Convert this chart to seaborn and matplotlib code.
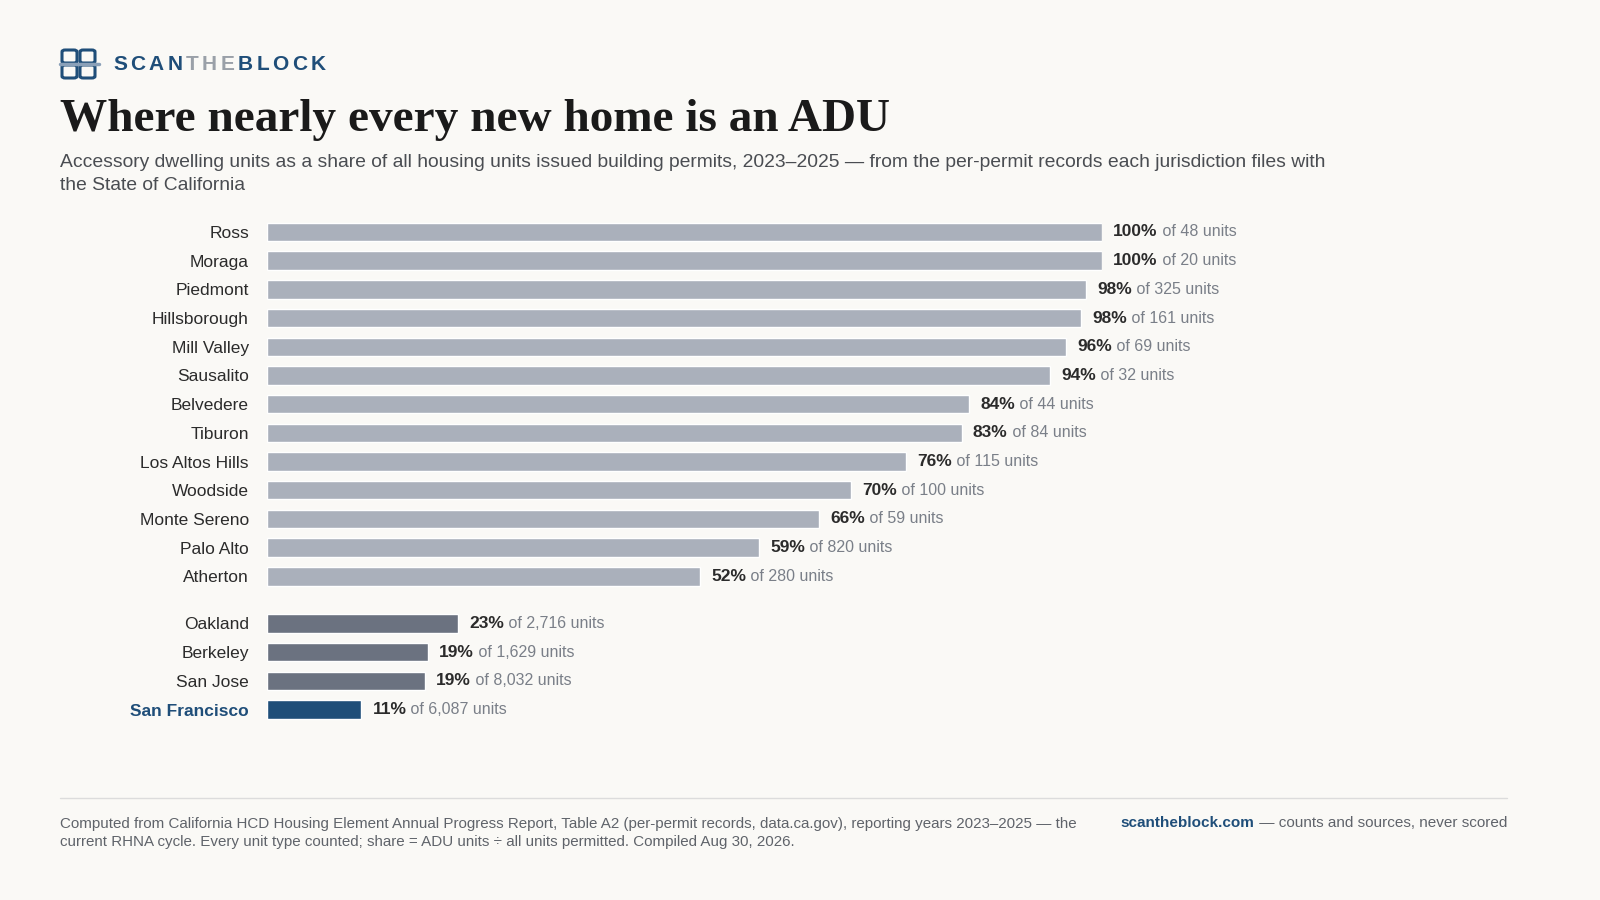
import matplotlib
matplotlib.use("Agg")
import matplotlib.pyplot as plt
import seaborn as sns
import pandas as pd
from matplotlib.patches import FancyBboxPatch
from matplotlib.lines import Line2D

places = ["Ross","Moraga","Piedmont","Hillsborough","Mill Valley","Sausalito","Belvedere",
          "Tiburon","Los Altos Hills","Woodside","Monte Sereno","Palo Alto","Atherton",
          "Oakland","Berkeley","San Jose","San Francisco"]
share = [100, 100, 98.1, 97.5, 95.7, 93.8, 84.1, 83.2, 76.5, 69.9, 66.1, 58.9, 51.9,
         22.9, 19.3, 18.9, 11.3]
share_labels = ["100%","100%","98%","98%","96%","94%","84%","83%","76%","70%","66%","59%","52%",
                "23%","19%","19%","11%"]
units = ["48","20","325","161","69","32","44","84","115","100","59","820","280",
         "2,716","1,629","8,032","6,087"]
group = ["small"]*13 + ["city"]*3 + ["sf"]

BG = "#faf9f6"
colors = {"small": "#aab0bb", "city": "#6b7280", "sf": "#1f4e79"}
ypos = [i if i < 13 else i + 0.64 for i in range(len(places))]

df = pd.DataFrame({"place": places, "share": share, "y": ypos, "group": group})

sns.set_theme(style="white")
plt.rcParams["font.family"] = ["Liberation Sans", "DejaVu Sans"]
fig = plt.figure(figsize=(16, 9), dpi=100, facecolor=BG)
ax = fig.add_axes([267/1600, 1-724.2/900, 835/1600, 506.6/900])
ax.set_facecolor(BG)
sns.barplot(data=df, x="share", y="y", hue="group", palette=colors, orient="h",
            native_scale=True, width=0.64, legend=False, ax=ax, saturation=1)
ax.set_xlim(0, 100)
ax.set_ylim(17.15, -0.5)
for s in ax.spines.values():
    s.set_visible(False)
ax.set_xticks([])
ax.set_yticks(ypos)
ax.set_yticklabels(places, fontsize=12.5, color="#2b2b2b")
ax.tick_params(axis="y", length=0, pad=13)
lab = ax.get_yticklabels()[-1]
lab.set_color("#1f4e79"); lab.set_fontweight("bold")
ax.set_xlabel(""); ax.set_ylabel("")
for v, y, sl, u in zip(share, ypos, share_labels, units):
    t = ax.annotate(sl, (v, y), xytext=(8, 0), textcoords="offset points", va="center",
                    fontsize=12.5, fontweight="bold", color="#2b2b2b", annotation_clip=False)
    ax.annotate(" of " + u + " units", (1, 0.5), xycoords=t, va="center", ha="left",
                fontsize=11.5, color="#7a7f88", annotation_clip=False)

# logo
def px(x, y):
    return x/1600, 1-y/900
for (x, y) in [(62, 50), (80, 50), (62, 65), (80, 65)]:
    fig.patches.append(FancyBboxPatch(px(x, y+13), 15/1600, 13/900,
                       boxstyle="round,pad=0,rounding_size=0.002", transform=fig.transFigure,
                       fill=False, ec="#1f4e79", lw=2.2))
fig.lines.append(Line2D([60/1600, 99/1600], [1-64/900]*2, transform=fig.transFigure,
                        color="#8aa0b8", lw=2.5))
kw = dict(fontsize=15, fontweight="bold", va="center")
fig.canvas.draw()
r = fig.canvas.get_renderer()
s = "SCANTHEBLOCK"
xc = 113/1600
for i, ch in enumerate(s):
    col = "#9aa0a8" if 4 <= i < 7 else "#1f4e79"
    tt = fig.text(xc, 1-64/900, ch, color=col, **kw)
    w = tt.get_window_extent(r).width
    xc += (w + 3.4)/1600

fig.text(60/1600, 1-120/900, "Where nearly every new home is an ADU", fontsize=34,
         fontweight="bold", family="Liberation Serif", color="#1a1a1a", va="center")
fig.text(60/1600, 1-174/900,
         "Accessory dwelling units as a share of all housing units issued building permits, 2023–2025 — from the per-permit records each jurisdiction files with\nthe State of California",
         fontsize=13.85, color="#4a4d52", va="center", linespacing=1.4)
fig.lines.append(Line2D([60/1600, 1507/1600], [1-798/900]*2, transform=fig.transFigure,
                        color="#dcdcdc", lw=1))
fig.text(60/1600, 1-833/900,
         "Computed from California HCD Housing Element Annual Progress Report, Table A2 (per-permit records, data.ca.gov), reporting years 2023–2025 — the\ncurrent RHNA cycle. Every unit type counted; share = ADU units ÷ all units permitted. Compiled Aug 30, 2026.",
         fontsize=10.9, color="#5f636a", va="center", linespacing=1.45)
t = fig.text(1507/1600, 1-823/900, " — counts and sources, never scored", fontsize=11,
             color="#5f636a", va="center", ha="right")
fig.canvas.draw()
bb = t.get_window_extent(r)
fig.text(bb.x0/1600, 1-823/900, "scantheblock.com", fontsize=11, fontweight="bold",
         color="#1f4e79", va="center", ha="right")
fig.savefig("out.png", dpi=100, facecolor=BG)
